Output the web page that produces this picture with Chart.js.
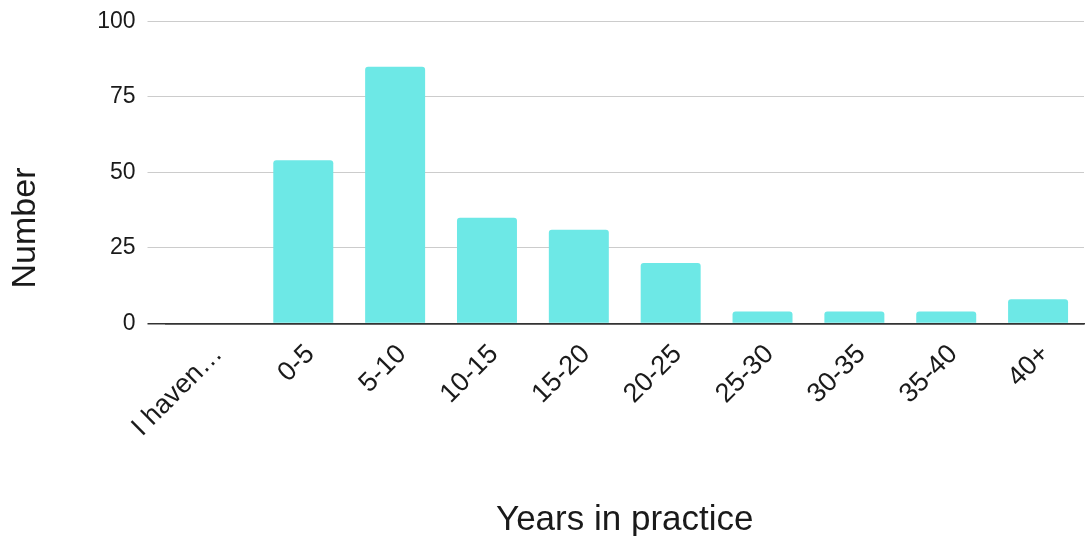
<!DOCTYPE html>
<html>
<head>
<meta charset="utf-8">
<title>Years in practice</title>
<script src="https://cdn.jsdelivr.net/npm/chart.js@4.4.1/dist/chart.umd.min.js"></script>
<style>
  html, body { margin: 0; padding: 0; background: #ffffff; }
  #wrap { width: 1088px; height: 536px; }
</style>
</head>
<body>
<div id="wrap"><canvas id="chart" width="1088" height="536"></canvas></div>
<script>
// Respondents grouped by years in practice
const categories = ["I haven…", "0-5", "5-10", "10-15", "15-20", "20-25", "25-30", "30-35", "35-40", "40+"];
const counts = [0, 54, 85, 35, 31, 20, 4, 4, 4, 8];
const yTickValues = [0, 25, 50, 75, 100];

const FONT = "'Liberation Sans', Arial, sans-serif";
const TEXT = "#1a1a1a";
const GRID = "#cccccc";
const BASE = "#333333";

// Rotated title for the value axis, placed beside the plot
const valueAxisTitle = {
  id: "valueAxisTitle",
  afterDraw(chart) {
    const ctx = chart.ctx;
    ctx.save();
    ctx.translate(35, 228);
    ctx.rotate(-Math.PI / 2);
    ctx.font = "34px " + FONT;
    ctx.fillStyle = TEXT;
    ctx.textAlign = "center";
    ctx.textBaseline = "alphabetic";
    ctx.fillText("Number", 0, 0);
    ctx.restore();
  }
};

new Chart(document.getElementById("chart"), {
  type: "bar",
  data: {
    labels: categories,
    datasets: [{
      data: counts,
      backgroundColor: "#6de8e6",
      borderRadius: { topLeft: 3, topRight: 3, bottomLeft: 0, bottomRight: 0 },
      borderSkipped: "start",
      barPercentage: 0.653,
      categoryPercentage: 1
    }]
  },
  options: {
    responsive: false,
    devicePixelRatio: 1,
    animation: false,
    layout: { padding: { top: 21.3, right: 4, bottom: 0, left: 0 } },
    plugins: { legend: { display: false }, tooltip: { enabled: false } },
    scales: {
      x: {
        z: 1,
        grid: { display: false, drawTicks: false },
        border: { display: true, color: BASE, width: 1.5 },
        ticks: {
          autoSkip: false,
          minRotation: 45,
          maxRotation: 45,
          padding: 15,
          labelOffset: 7,
          color: TEXT,
          font: { family: FONT, size: 27 }
        },
        title: {
          display: true,
          text: "Years in practice",
          color: TEXT,
          font: { family: FONT, size: 35, lineHeight: 1 },
          padding: { top: 0, bottom: -2 }
        },
        afterFit(scale) { scale.height = 212.5; }
      },
      y: {
        min: 0,
        max: 100,
        afterBuildTicks(scale) { scale.ticks = yTickValues.map(v => ({ value: v })); },
        grid: {
          color: c => (c.tick && c.tick.value === 0 ? BASE : GRID),
          tickColor: c => (c.tick && c.tick.value === 0 ? BASE : GRID),
          lineWidth: c => (c.tick && c.tick.value === 0 ? 1.5 : 1),
          tickLength: 18
        },
        border: { display: false },
        ticks: {
          padding: 12,
          color: TEXT,
          font: { family: FONT, size: 23 }
        },
        afterFit(scale) {
          scale.width = 165.5;
          scale.paddingTop = 8;
          scale.paddingBottom = 8;
        }
      }
    }
  },
  plugins: [valueAxisTitle]
});
</script>
</body>
</html>
